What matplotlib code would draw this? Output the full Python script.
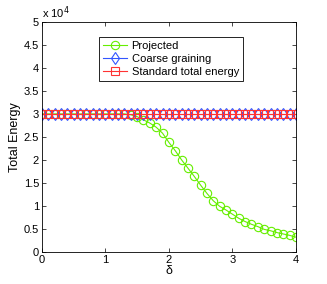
import numpy as np
import matplotlib.pyplot as plt
from matplotlib.ticker import FuncFormatter

plt.rcParams['font.family'] = ['Liberation Sans', 'DejaVu Sans']

delta = np.round(np.arange(0, 41) * 0.1, 1)
projected = [3.0, 3.0, 3.0, 3.0, 3.0, 3.0, 3.0, 3.0, 3.0, 3.0, 3.0, 3.0, 3.0,
             3.0, 2.98, 2.94, 2.87, 2.8, 2.71, 2.58, 2.38, 2.2, 2.0, 1.82,
             1.64, 1.45, 1.27, 1.11, 0.99, 0.91, 0.82, 0.73, 0.66, 0.6, 0.55,
             0.49, 0.46, 0.42, 0.39, 0.36, 0.32]
coarse = [3.0] * 41
standard = [3.0] * 41
projected = np.array(projected) * 1e4
coarse = np.array(coarse) * 1e4
standard = np.array(standard) * 1e4

fig = plt.figure(figsize=(3.27, 2.84), dpi=100)
ax = fig.add_axes([0.128, 0.113, 0.777, 0.81])
ax.plot(delta, projected, '-o', color='#66ee00', mfc='none', ms=6, lw=0.8, mew=0.8, label='Projected')
ax.plot(delta, coarse, '-d', color='#3355ff', mfc='none', ms=6, lw=0.8, mew=0.8, label='Coarse graining')
ax.plot(delta, standard, '-s', color='#ff3333', mfc='none', ms=5.5, lw=0.8, mew=0.8, label='Standard total energy')

ax.set_xlim(0, 4)
ax.set_ylim(0, 5e4)
ax.set_xticks([0, 1, 2, 3, 4])
ax.set_yticks(np.arange(0, 5.01, 0.5) * 1e4)
ax.yaxis.set_major_formatter(FuncFormatter(lambda v, p: ('%g' % (v / 1e4))))
ax.tick_params(direction='in', top=True, right=True, labelsize=8, length=3, width=0.5, pad=2)
for s in ax.spines.values():
    s.set_linewidth(0.6)
ax.text(0.0, 1.005, r'x 10$^4$', transform=ax.transAxes, fontsize=8, va='bottom', ha='left')
ax.set_xlabel('δ', fontsize=9, labelpad=0)
ax.set_ylabel('Total Energy', fontsize=9, labelpad=2)
leg = ax.legend(loc='upper left', bbox_to_anchor=(0.224, 0.935), fontsize=8, fancybox=False,
                framealpha=1, edgecolor='black', borderpad=0.35, labelspacing=0.3,
                handlelength=2.2, handletextpad=0.4, borderaxespad=0)
leg.get_frame().set_linewidth(0.6)
plt.savefig('out.png')
